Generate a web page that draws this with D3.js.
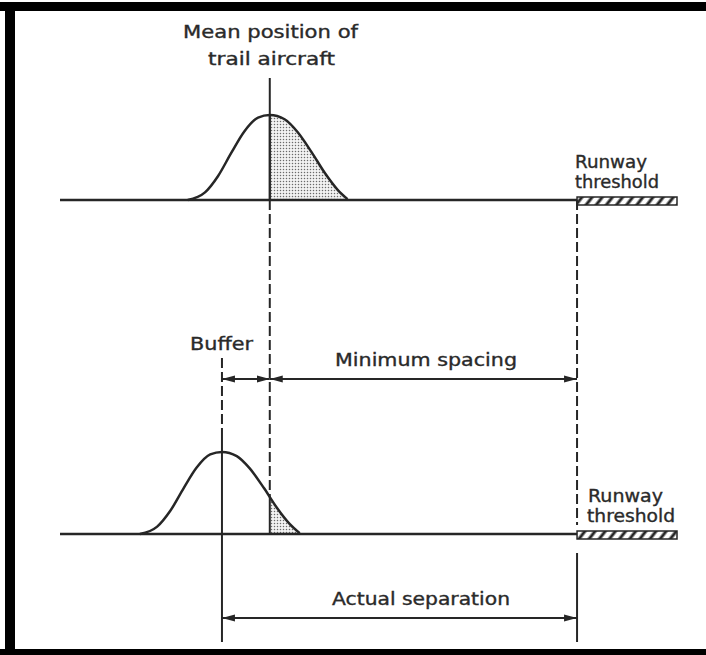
<!DOCTYPE html>
<html>
<head>
<meta charset="utf-8">
<script src="https://cdn.jsdelivr.net/npm/d3@7"></script>
<style>
  body { margin: 0; background: #fff; }
  text { font-family: "DejaVu Sans", sans-serif; font-size: 17px; fill: #2a2a2a; stroke: #2a2a2a; stroke-width: 0.35px; }
</style>
</head>
<body>
<script>
// positions along the approach, 0..100 across the drawing
let leadMean = 26.25
let trailMean = 34
let threshold = 83.8
let runwayEnd = 100

// bell shape: offset from the mean and relative height
let bellOffset = [-13.3, -10.5, -8.4, -6.2, -4.1, -1.9, 0, 2.4, 4.5, 6.8, 8.9, 11, 12.6]
let bellHeight = [0, 0.09, 0.28, 0.56, 0.81, 0.97, 1, 0.95, 0.80, 0.56, 0.32, 0.12, 0.01]

let labels = ["Mean position of", "trail aircraft", "Runway", "threshold", "Buffer", "Minimum spacing", "Actual separation"]

let width = 706
let height = 655
let ink = "#262626"

let svg = d3.select("body").append("svg")
    .attr("width", width)
    .attr("height", height)

let x = d3.scaleLinear().domain([0, 100]).range([60, 677])
let topY = d3.scaleLinear().domain([0, 1]).range([200, 115])
let botY = d3.scaleLinear().domain([0, 1]).range([534, 452])
let bellAt = d3.scaleLinear().domain(bellOffset).range(bellHeight).clamp(true)

let defs = svg.append("defs")

// stipple for the shaded tail
let dots = defs.append("pattern")
    .attr("id", "dots")
    .attr("width", 3).attr("height", 3)
    .attr("patternUnits", "userSpaceOnUse")
dots.append("rect").attr("width", 3).attr("height", 3).attr("fill", "#f2f2f2")
dots.append("circle").attr("cx", 1.5).attr("cy", 1.5).attr("r", 0.75).attr("fill", "#6a6a6a")

// hatch for the runway
let hatch = defs.append("pattern")
    .attr("id", "hatch")
    .attr("width", 8).attr("height", 10)
    .attr("patternUnits", "userSpaceOnUse")
    .attr("patternTransform", "rotate(38)")
hatch.append("line")
    .attr("x1", 4).attr("x2", 4).attr("y1", 0).attr("y2", 10)
    .attr("stroke", ink).attr("stroke-width", 3)

// arrow head
defs.append("marker")
    .attr("id", "head")
    .attr("viewBox", "0 -4 13 8")
    .attr("refX", 13).attr("refY", 0)
    .attr("markerWidth", 13).attr("markerHeight", 8)
    .attr("markerUnits", "userSpaceOnUse")
    .attr("orient", "auto-start-reverse")
    .append("path")
    .attr("d", "M0,-3.6L13,0L0,3.6Z")
    .attr("fill", ink)

let pts = bellOffset.map((o, i) => ({o: o, h: bellHeight[i]}))

function drawPanel(mean, y, shadeFrom, id) {
    let g = svg.append("g")
    let line = d3.line()
        .x(d => x(mean + d.o))
        .y(d => y(d.h))
        .curve(d3.curveMonotoneX)
    let area = d3.area()
        .x(d => x(mean + d.o))
        .y0(y(0))
        .y1(d => y(d.h))
        .curve(d3.curveMonotoneX)

    defs.append("clipPath").attr("id", id)
        .append("rect")
        .attr("x", x(shadeFrom)).attr("y", 0)
        .attr("width", width).attr("height", height)

    g.append("path")
        .attr("d", area(pts))
        .attr("clip-path", `url(#${id})`)
        .attr("fill", "url(#dots)")
    // left edge of the shaded tail
    g.append("line")
        .attr("x1", x(shadeFrom)).attr("x2", x(shadeFrom))
        .attr("y1", y(bellAt(shadeFrom - mean))).attr("y2", y(0))
        .attr("stroke", ink).attr("stroke-width", 2)

    // ground line
    g.append("line")
        .attr("x1", x(0)).attr("x2", x(threshold))
        .attr("y1", y(0)).attr("y2", y(0))
        .attr("stroke", ink).attr("stroke-width", 2.5)

    g.append("path")
        .attr("d", line(pts))
        .attr("fill", "none")
        .attr("stroke", ink)
        .attr("stroke-width", 2.5)

    // runway
    g.append("rect")
        .attr("x", x(threshold)).attr("y", y(0) - 3)
        .attr("width", x(runwayEnd) - x(threshold)).attr("height", 8)
        .attr("fill", "url(#hatch)")
        .attr("stroke", ink).attr("stroke-width", 1.5)
    return g
}

drawPanel(trailMean, topY, trailMean, "clipTop")
drawPanel(leadMean, botY, trailMean, "clipBot")

function vline(xv, y1, y2, dashed) {
    svg.append("line")
        .attr("x1", x(xv)).attr("x2", x(xv))
        .attr("y1", y1).attr("y2", y2)
        .attr("stroke", ink).attr("stroke-width", 2)
        .attr("stroke-dasharray", dashed ? "10,4" : null)
}

// trail mean
vline(trailMean, 78, topY(0), false)
vline(trailMean, topY(0), botY(bellAt(trailMean - leadMean)), true)
// lead mean
vline(leadMean, 358, 430, true)
vline(leadMean, 430, 642, false)
// threshold
vline(threshold, topY(0), 525, true)
vline(threshold, 553, 642, false)

function arrow(a, b, y) {
    svg.append("line")
        .attr("x1", x(a)).attr("x2", x(b))
        .attr("y1", y).attr("y2", y)
        .attr("stroke", ink).attr("stroke-width", 2)
        .attr("marker-start", "url(#head)")
        .attr("marker-end", "url(#head)")
}
arrow(leadMean, trailMean, 379)
arrow(trailMean, threshold, 379)
arrow(leadMean, threshold, 618)

// labels: [text, x, baseline, width]
let placed = [
    [labels[0], 183, 38, 175],
    [labels[1], 208, 65, 127],
    [labels[2], 575, 168, 72],
    [labels[3], 575, 188, 84],
    [labels[4], 190, 350, 63],
    [labels[5], 335, 366, 182],
    [labels[2], 588, 502, 75],
    [labels[3], 587, 522, 88],
    [labels[6], 332, 605, 178]
]
svg.selectAll("text.lbl")
    .data(placed)
    .enter()
    .append("text")
    .attr("class", "lbl")
    .attr("x", d => d[1])
    .attr("y", d => d[2])
    .attr("textLength", d => d[3])
    .attr("lengthAdjust", "spacingAndGlyphs")
    .text(d => d[0])

// scan frame
svg.append("rect").attr("x", 0).attr("y", 2).attr("width", width).attr("height", 9).attr("fill", "#000")
svg.append("rect").attr("x", 5).attr("y", 2).attr("width", 10).attr("height", height).attr("fill", "#000")
svg.append("rect").attr("x", 0).attr("y", 649).attr("width", width).attr("height", 6).attr("fill", "#000")
</script>
</body>
</html>
